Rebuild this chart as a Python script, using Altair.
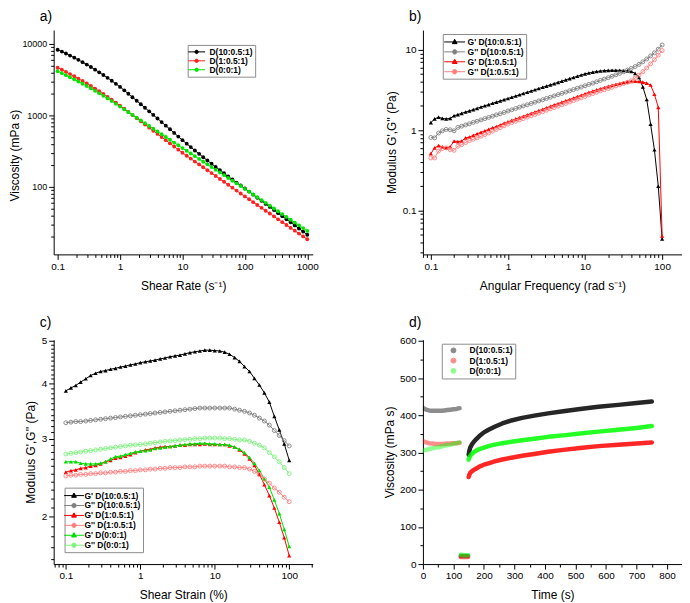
import json
import math
import altair as alt
import pandas as pd

FONT = "Liberation Sans, Arial, Helvetica, sans-serif"

# ---------------- data: panel a (viscosity flow curves) ----------------
A_X = [0.1, 0.117, 0.136, 0.158, 0.185, 0.215, 0.251, 0.293, 0.341, 0.398, 0.464, 0.541, 0.631, 0.736, 0.858,
       1, 1.17, 1.36, 1.58, 1.85, 2.15, 2.51, 2.93, 3.41, 3.98, 4.64, 5.41, 6.31, 7.36, 8.58,
       10, 11.7, 13.6, 15.8, 18.5, 21.5, 25.1, 29.3, 34.1, 39.8, 46.4, 54.1, 63.1, 73.6, 85.8,
       100, 117, 136, 158, 185, 215, 251, 293, 341, 398, 464, 541, 631, 736, 858, 1000]
A_D10 = [8300, 7816, 7345, 6875, 6425, 5984, 5555, 5140, 4750, 4365, 4008, 3673, 3357, 3050, 2768,
         2506, 2244, 2006, 1795, 1603, 1432, 1279, 1140, 1016, 906, 807, 719, 640, 569, 506,
         450, 402, 360, 323, 290, 260, 234, 211, 190, 172, 155, 140, 127, 115, 104.5,
         95.0, 86.0, 77.9, 70.5, 63.9, 57.8, 52.4, 47.4, 42.9, 38.9, 35.2, 31.9, 28.9, 26.1, 23.7, 21.4]
A_D1 = [4645, 4350, 4064, 3789, 3525, 3271, 3029, 2799, 2581, 2374, 2179, 1994, 1821, 1661, 1511,
        1371, 1238, 1119, 1011, 914, 826, 746, 674, 609, 551, 498, 450, 406, 367, 332,
        300, 273, 249, 226, 206, 188, 171, 156, 142, 129, 118, 107, 97.5, 88.8, 80.8,
        73.6, 67.1, 61.2, 55.8, 50.9, 46.4, 42.4, 38.6, 35.2, 32.1, 29.3, 26.7, 24.4, 22.2, 20.3, 18.5]
A_D0 = [4150, 3898, 3656, 3422, 3196, 2980, 2773, 2575, 2386, 2207, 2038, 1877, 1727, 1585, 1452,
        1327, 1214, 1111, 1016, 930, 851, 778, 712, 651, 596, 545, 499, 456, 417, 382,
        349, 320, 293, 269, 246, 225, 207, 189, 173, 159, 146, 133, 122, 112, 103,
        94.0, 85.9, 78.4, 71.6, 65.4, 59.8, 54.6, 49.9, 45.6, 41.6, 38.0, 34.7, 31.7, 29.0, 26.5, 24.2]

# ---------------- data: panel b (frequency sweep) ----------------
B_X = [0.1, 0.112, 0.126, 0.141, 0.158, 0.178, 0.2, 0.224, 0.251, 0.282, 0.316, 0.355, 0.398, 0.447, 0.501,
       0.562, 0.631, 0.708, 0.794, 0.891,
       1, 1.12, 1.26, 1.41, 1.58, 1.78, 2, 2.24, 2.51, 2.82, 3.16, 3.55, 3.98, 4.47, 5.01, 5.62, 6.31, 7.08,
       7.94, 8.91,
       10, 11.2, 12.6, 14.1, 15.8, 17.8, 20, 22.4, 25.1, 28.2, 31.6, 35.5, 39.8, 44.7, 50.1, 56.2, 63.1, 70.8,
       79.4, 89.1, 100]
B_GP_10 = [1.24, 1.38, 1.45, 1.40, 1.38, 1.40, 1.51, 1.56, 1.62, 1.68, 1.74, 1.80, 1.87, 1.94, 2.01, 2.08,
           2.16, 2.23, 2.31, 2.40,
           2.48, 2.57, 2.66, 2.76, 2.86, 2.96, 3.07, 3.18, 3.30, 3.42, 3.54, 3.67, 3.80, 3.94, 4.08, 4.23,
           4.38, 4.53, 4.69, 4.86,
           5.03, 5.15, 5.27, 5.37, 5.45, 5.51, 5.55, 5.57, 5.57, 5.56, 5.53, 5.48, 5.38, 5.10, 4.55, 3.46,
           2.41, 1.19, 0.57, 0.20, 0.044]
B_GPP_10 = [0.81, 0.80, 0.92, 0.98, 1.02, 1.01, 0.98, 1.08, 1.12, 1.16, 1.20, 1.25, 1.29, 1.34, 1.39, 1.44,
            1.49, 1.55, 1.60, 1.66,
            1.73, 1.79, 1.86, 1.93, 2.00, 2.07, 2.15, 2.23, 2.31, 2.39, 2.48, 2.57, 2.67, 2.77, 2.87, 2.98,
            3.09, 3.20, 3.32, 3.44,
            3.57, 3.71, 3.85, 4.00, 4.16, 4.33, 4.50, 4.69, 4.89, 5.10, 5.34, 5.60, 5.88, 6.20, 6.60, 7.10,
            7.70, 8.40, 9.20, 10.2, 11.5]
B_GP_1 = [0.51, 0.60, 0.64, 0.62, 0.60, 0.62, 0.73, 0.72, 0.73, 0.80, 0.82, 0.86, 0.90, 0.94, 0.98, 1.02,
          1.07, 1.11, 1.16, 1.22,
          1.27, 1.32, 1.38, 1.43, 1.49, 1.55, 1.62, 1.68, 1.75, 1.82, 1.90, 1.98, 2.06, 2.14, 2.23, 2.32,
          2.41, 2.51, 2.62, 2.72,
          2.84, 2.95, 3.06, 3.17, 3.28, 3.40, 3.51, 3.62, 3.73, 3.83, 3.92, 3.99, 4.04, 4.06, 4.04, 3.96,
          3.85, 3.65, 2.80, 1.92, 0.048]
B_GPP_1 = [0.45, 0.45, 0.55, 0.59, 0.60, 0.57, 0.56, 0.63, 0.66, 0.70, 0.74, 0.77, 0.80, 0.84, 0.88, 0.92,
           0.97, 1.02, 1.07, 1.13,
           1.19, 1.24, 1.29, 1.34, 1.39, 1.45, 1.51, 1.57, 1.63, 1.70, 1.77, 1.84, 1.91, 1.99, 2.07, 2.15,
           2.24, 2.33, 2.43, 2.52,
           2.63, 2.74, 2.85, 2.96, 3.07, 3.18, 3.30, 3.42, 3.55, 3.68, 3.81, 3.95, 4.12, 4.45, 4.85, 5.35,
           5.95, 6.70, 7.55, 8.60, 9.80]

# ---------------- data: panel c (amplitude sweep) ----------------
C_X = [0.1, 0.117, 0.136, 0.158, 0.185, 0.215, 0.251, 0.293, 0.341, 0.398, 0.464, 0.541, 0.631, 0.736, 0.858,
       1, 1.17, 1.36, 1.58, 1.85, 2.15, 2.51, 2.93, 3.41, 3.98, 4.64, 5.41, 6.31, 7.36, 8.58,
       10, 11.7, 13.6, 15.8, 18.5, 21.5, 25.1, 29.3, 34.1, 39.8, 46.4, 54.1, 63.1, 73.6, 85.8, 100]
C_GP_10 = [3.85, 3.91, 3.96, 4.03, 4.10, 4.17, 4.22, 4.26, 4.28, 4.31, 4.33, 4.36, 4.38, 4.41, 4.43,
           4.46, 4.48, 4.50, 4.52, 4.55, 4.57, 4.60, 4.62, 4.64, 4.67, 4.70, 4.72, 4.74, 4.76, 4.76,
           4.75, 4.74, 4.71, 4.66, 4.58, 4.49, 4.37, 4.26, 4.11, 3.97, 3.81, 3.63, 3.37, 3.14, 2.92, 2.68]
C_GPP_10 = [3.26, 3.27, 3.28, 3.28, 3.29, 3.30, 3.31, 3.32, 3.33, 3.34, 3.35, 3.36, 3.37, 3.38, 3.39,
            3.40, 3.41, 3.42, 3.43, 3.44, 3.45, 3.46, 3.47, 3.48, 3.49, 3.50, 3.51, 3.52, 3.52, 3.52,
            3.52, 3.52, 3.52, 3.52, 3.50, 3.48, 3.46, 3.43, 3.39, 3.34, 3.29, 3.22, 3.13, 3.05, 2.97, 2.89]
C_GP_1 = [2.52, 2.54, 2.55, 2.57, 2.58, 2.60, 2.61, 2.63, 2.66, 2.68, 2.71, 2.72, 2.74, 2.76, 2.79,
          2.81, 2.83, 2.84, 2.86, 2.87, 2.88, 2.88, 2.89, 2.90, 2.90, 2.91, 2.91, 2.91, 2.92, 2.91,
          2.91, 2.91, 2.91, 2.89, 2.87, 2.83, 2.77, 2.70, 2.61, 2.49, 2.36, 2.23, 2.09, 1.94, 1.79, 1.63]
C_GPP_1 = [2.47, 2.48, 2.48, 2.49, 2.49, 2.50, 2.50, 2.51, 2.51, 2.52, 2.52, 2.53, 2.53, 2.54, 2.54,
           2.55, 2.55, 2.56, 2.56, 2.57, 2.57, 2.58, 2.58, 2.58, 2.59, 2.59, 2.59, 2.60, 2.60, 2.60,
           2.60, 2.60, 2.60, 2.59, 2.59, 2.58, 2.58, 2.56, 2.53, 2.49, 2.43, 2.38, 2.32, 2.27, 2.21, 2.16]
C_GP_0 = [2.66, 2.66, 2.66, 2.64, 2.63, 2.63, 2.63, 2.64, 2.66, 2.70, 2.73, 2.74, 2.76, 2.78, 2.80,
          2.81, 2.82, 2.83, 2.85, 2.86, 2.87, 2.88, 2.89, 2.90, 2.91, 2.92, 2.92, 2.93, 2.93, 2.92,
          2.92, 2.91, 2.91, 2.90, 2.87, 2.84, 2.79, 2.72, 2.64, 2.54, 2.43, 2.33, 2.18, 2.03, 1.87, 1.71]
C_GPP_0 = [2.77, 2.78, 2.79, 2.80, 2.81, 2.82, 2.83, 2.84, 2.85, 2.86, 2.87, 2.88, 2.89, 2.90, 2.905,
           2.91, 2.92, 2.93, 2.94, 2.95, 2.96, 2.965, 2.97, 2.98, 2.985, 2.99, 3.00, 3.00, 3.01, 3.01,
           3.01, 3.01, 3.00, 3.00, 2.99, 2.98, 2.98, 2.96, 2.93, 2.90, 2.86, 2.79, 2.73, 2.66, 2.58, 2.50]

# ---------------- data: panel d (three-interval thixotropy test) ----------------
D_T1 = [0, 10, 20, 30, 40, 50, 60, 70, 80, 90, 100, 110, 120]
D10_1 = [420, 415, 413, 412, 412, 412, 412, 413, 414, 415, 416, 417, 419]
D1_1 = [331, 327, 325, 324, 323, 323, 323, 323, 324, 324, 325, 325, 326]
D0_1 = [305, 307, 309, 311, 313, 314, 316, 318, 320, 321, 323, 325, 327]
D_T2 = [124, 128, 132, 136, 140, 144, 148]
D10_2 = [22, 22, 22, 22, 22, 22, 22]
D1_2 = [19, 19, 19, 19, 19, 19, 19]
D0_2 = [25, 25, 24, 24, 24, 24, 24]
D_T3 = [150, 152, 155, 160, 167, 175, 185, 200, 215, 235, 260, 290, 325, 365, 410, 460, 515, 575, 640, 700, 750]
D10_3 = [294, 304, 313, 321, 329, 336, 344, 354, 361, 369, 378, 386, 393, 399, 405, 411, 417, 423, 428, 433, 437]
D1_3 = [234, 240, 245, 249, 253, 257, 262, 267, 271, 276, 281, 286, 291, 296, 302, 307, 312, 317, 321, 324, 327]
D0_3 = [281, 286, 291, 296, 301, 305, 309, 313, 317, 321, 325, 329, 333, 337, 342, 346, 351, 356, 361, 366, 371]
D_SEG_OPACITY = [0.45, 0.55, 0.85]

# ---------------- names, colours, ticks ----------------
S_NAMES = ["D(10:0.5:1)", "D(1:0.5:1)", "D(0:0:1)"]
G_NAMES = ["G' D(10:0.5:1)", "G'' D(10:0.5:1)", "G' D(1:0.5:1)", "G'' D(1:0.5:1)",
           "G' D(0:0:1)", "G'' D(0:0:1)"]
A_COLORS = ["#000000", "#ff2020", "#00e600"]
G_COLORS = ["#000000", "#808080", "#ff0000", "#ff7f7f", "#00dd00", "#7ff27f"]
D_COLORS = ["#000000", "#ff0000", "#00ff00"]


def minors(decades, extra=()):
    return sorted([round(m * d, 6) for d in decades for m in range(2, 10)] + list(extra))


A_XMAJ, A_XMIN = [0.1, 1, 10, 100, 1000], minors([0.1, 1, 10, 100])
A_YMAJ, A_YMIN = [100, 1000, 10000], minors([10, 100, 1000])
B_XMAJ, B_XMIN = [0.1, 1, 10, 100], minors([0.1, 1, 10], [0.08, 0.09])
B_YMAJ, B_YMIN = [0.1, 1, 10], minors([0.1, 1]) + [0.03, 0.04, 0.05, 0.06, 0.07, 0.08, 0.09]
C_XMAJ, C_XMIN = [0.1, 1, 10, 100], minors([0.1, 1, 10], [0.07, 0.08, 0.09, 200])
C_YMAJ = [2, 3, 4, 5]
C_YMIN = [round(v / 10, 1) for v in range(16, 50) if v % 10]
D_XMAJ, D_XMIN = list(range(0, 801, 100)), list(range(50, 801, 100))
D_YMAJ, D_YMIN = list(range(0, 601, 100)), list(range(50, 601, 100))

W, H = 261, 226


def axis(title, majors, minor_vals, fmt, label_size=10, title_pad=4, title_y=None):
    test = "indexof(" + json.dumps(majors) + ", datum.value) >= 0"
    kw = dict(title=title, values=sorted(majors + minor_vals), format=fmt,
              labelExpr=test + " ? datum.label : ''",
              tickSize={"condition": {"test": test, "value": 5}, "value": 3},
              grid=False, domainColor="black", domainWidth=1, tickColor="black", tickWidth=1,
              labelColor="black", labelFont=FONT, labelFontSize=label_size,
              titleFont=FONT, titleFontSize=12, titleFontWeight="normal", titleColor="black",
              labelPadding=2, titlePadding=title_pad, labelOverlap=False, labelFlush=False)
    if title_y is not None:
        kw["titleY"] = title_y
    return alt.Axis(**kw)


# ---------------- legend symbol paths (style only) ----------------
def ring(r, n=18):
    pts = [(r * math.cos(2 * math.pi * k / n), r * math.sin(2 * math.pi * k / n)) for k in range(n)]
    return "M" + "L".join(f"{x:.3f},{y:.3f}" for x, y in pts) + "Z"


def sym_dot(u, L):
    return f"M{-L/u:.3f},0H{L/u:.3f}" + "".join(ring(r / u) for r in (0.5, 1.1, 1.7))


def sym_tri(u, L):
    s = f"M{-L/u:.3f},0H{L/u:.3f}"
    for k in (1.0, 0.6, 0.25):
        s += (f"M0,{-2.6*k/u:.3f}L{2.4*k/u:.3f},{1.7*k/u:.3f}L{-2.4*k/u:.3f},{1.7*k/u:.3f}Z")
    return s


def sym_open(u, L, r=2.2):
    return f"M{-L/u:.3f},0H{-r/u:.3f}M{r/u:.3f},0H{L/u:.3f}" + ring(r / u)


def legend(x, y, size, offset, label_offset, row_pad, ltype=None):
    kw = dict(title=None, orient="none", legendX=x, legendY=y, direction="vertical",
              strokeColor="#8c8c8c", fillColor="white", padding=2.5,
              symbolSize=size, symbolStrokeWidth=1, symbolOffset=offset,
              labelOffset=label_offset, rowPadding=row_pad,
              labelFont=FONT, labelFontSize=8.5, labelFontWeight="bold", labelColor="black")
    if ltype:
        kw["symbolType"] = ltype
    return alt.Legend(**kw)


def title(t):
    return alt.TitleParams(text=t, anchor="start", frame="group", dx=-14, offset=-8, baseline="bottom",
                           fontSize=14, font=FONT, fontWeight="normal", color="black")


OUT = 1e7  # legend carriers are placed beyond the axis range and clipped away

# ---------------- panel a ----------------
a_df = pd.DataFrame({"x": A_X * 3, "y": A_D10 + A_D1 + A_D0,
                     "series": [S_NAMES[0]] * len(A_X) + [S_NAMES[1]] * len(A_X) + [S_NAMES[2]] * len(A_X)})
a_leg = pd.DataFrame({"x": [OUT] * 3, "y": [A_D10[0], A_D1[0], A_D0[0]], "series": S_NAMES})
xa = alt.X("x:Q", scale=alt.Scale(type="log", domain=[0.0864, 1223], nice=False),
           axis=axis("Shear Rate (s\u207b\u00b9)", A_XMAJ, A_XMIN, "~g", title_pad=9))
ya = alt.Y("y:Q", scale=alt.Scale(type="log", domain=[11.37, 15640], nice=False),
           axis=axis("Viscosity (mPa s)", A_YMAJ, A_YMIN, "~g", label_size=9, title_pad=0, title_y=126))
ca = alt.Scale(domain=S_NAMES, range=A_COLORS)
ua = 4.0
la = legend(135, 15, 64, 2, 8.5, -1.2)
a_carrier = alt.Chart(a_leg).mark_point(filled=False, opacity=1, strokeWidth=1, clip=True).encode(
    x=xa, y=ya,
    color=alt.Color("series:N", scale=ca, legend=la),
    shape=alt.Shape("series:N", scale=alt.Scale(domain=S_NAMES, range=[sym_dot(ua, 8.5)] * 3), legend=la))
a_lines = alt.Chart(a_df).mark_line(strokeWidth=1, clip=True).encode(
    x=xa, y=ya, color=alt.Color("series:N", scale=ca, legend=None), detail="series:N")
a_pts = alt.Chart(a_df).mark_point(shape="circle", filled=True, size=15, opacity=1, clip=True).encode(
    x=xa, y=ya, color=alt.Color("series:N", scale=ca, legend=None))
panel_a = alt.layer(a_carrier, a_lines, a_pts).properties(width=W, height=H, title=title("a)"))


# ---------------- panels b and c (G', G'') ----------------
def modulus_panel(xs, series, names, colors, xdom, ydom, xt, xmaj, xmin, ymaj, ymin, leg_xy, u, L,
                  sym_off, lab_off, ttl):
    n = len(xs)
    df = pd.DataFrame({"x": xs * len(series), "y": sum(series, []),
                       "series": sum([[nm] * n for nm in names], []),
                       "kind": sum([["Gp" if nm.startswith("G' ") else "Gpp"] * n for nm in names], [])})
    leg_df = pd.DataFrame({"x": [OUT] * len(names), "y": [s[0] for s in series], "series": names})
    xe = alt.X("x:Q", scale=alt.Scale(type="log", domain=xdom, nice=False),
               axis=axis(xt, xmaj, xmin, "~g", title_pad=9))
    ye = alt.Y("y:Q", scale=alt.Scale(type="log", domain=ydom, nice=False),
               axis=axis("Modulus G',G'' (Pa)", ymaj, ymin, "~g", title_pad=4))
    cs = alt.Scale(domain=names, range=colors)
    col = alt.Color("series:N", scale=cs, legend=None)
    lg = legend(leg_xy[0], leg_xy[1], 100, sym_off, lab_off, 0)
    shapes = [sym_tri(u, L) if nm.startswith("G' ") else sym_open(u, L) for nm in names]
    carrier = alt.Chart(leg_df).mark_point(filled=False, opacity=1, strokeWidth=1, clip=True).encode(
        x=xe, y=ye, color=alt.Color("series:N", scale=cs, legend=lg),
        shape=alt.Shape("series:N", scale=alt.Scale(domain=names, range=shapes), legend=lg))
    lines = alt.Chart(df).mark_line(strokeWidth=1, clip=True).encode(x=xe, y=ye, color=col, detail="series:N")
    tri = alt.Chart(df).transform_filter(alt.datum.kind == "Gp").mark_point(
        shape="triangle-up", filled=True, size=18, opacity=1, clip=True).encode(x=xe, y=ye, color=col)
    opn = alt.Chart(df).transform_filter(alt.datum.kind == "Gpp").mark_point(
        shape="circle", filled=False, size=16, strokeWidth=0.9, opacity=1, clip=True).encode(
        x=xe, y=ye, color=col)
    return alt.layer(carrier, lines, tri, opn).properties(width=W, height=H, title=title(ttl))


panel_b = modulus_panel(B_X, [B_GP_10, B_GPP_10, B_GP_1, B_GPP_1], G_NAMES[:4], G_COLORS[:4],
                        [0.0789, 181], [0.0283, 17.66], "Angular Frequency (rad s\u207b\u00b9)",
                        B_XMAJ, B_XMIN, B_YMAJ, B_YMIN, (20, 4), 5.0, 10.5, 4, 7.5, "b)")
panel_c = modulus_panel(C_X, [C_GP_10, C_GPP_10, C_GP_1, C_GPP_1, C_GP_0, C_GPP_0], G_NAMES, G_COLORS,
                        [0.0686, 207], [1.56, 5.026], "Shear Strain (%)",
                        C_XMAJ, C_XMIN, C_YMAJ, C_YMIN, (11, 149), 5.0, 10.0, 1.5, 5, "c)")

# ---------------- panel d ----------------
rows = []
for nm, segs in zip(S_NAMES, [(D10_1, D10_2, D10_3), (D1_1, D1_2, D1_3), (D0_1, D0_2, D0_3)]):
    for si, (ts, vs) in enumerate(zip((D_T1, D_T2, D_T3), segs)):
        for t, v in zip(ts, vs):
            rows.append({"x": t, "y": v, "series": nm, "key": f"{nm}-{si}", "op": D_SEG_OPACITY[si]})
d_df = pd.DataFrame(rows)
d_leg = pd.DataFrame({"x": [OUT] * 3, "y": [D10_1[0], D1_1[0], D0_1[0]], "series": S_NAMES})
xd = alt.X("x:Q", scale=alt.Scale(domain=[0, 849], nice=False, zero=False),
           axis=axis("Time (s)", D_XMAJ, D_XMIN, "d", title_pad=9))
yd = alt.Y("y:Q", scale=alt.Scale(domain=[0, 603], nice=False, zero=False),
           axis=axis("Viscosity (mPa s)", D_YMAJ, D_YMIN, "d", title_pad=3))
cd = alt.Scale(domain=S_NAMES, range=D_COLORS)
ld = legend(19, 4, 25, 5, 12, 0.3, "circle")
d_carrier = alt.Chart(d_leg).mark_point(shape="circle", filled=True, size=25, opacity=0.45, clip=True).encode(
    x=xd, y=yd, color=alt.Color("series:N", scale=cd, legend=ld))
d_lines = alt.Chart(d_df).mark_line(strokeWidth=4.5, strokeCap="round", strokeJoin="round", clip=True).encode(
    x=xd, y=yd, color=alt.Color("series:N", scale=cd, legend=None), detail="key:N",
    opacity=alt.Opacity("op:Q", scale=None, legend=None))
panel_d = alt.layer(d_carrier, d_lines).properties(width=W, height=H, title=title("d)"))

chart = alt.concat(panel_a, panel_b, panel_c, panel_d, columns=2,
                   spacing={"row": 86, "column": 111}, bounds="flush", align="all",
                   padding=0).resolve_scale(
    color="independent", shape="independent", opacity="independent").resolve_legend(
    color="independent", shape="independent").configure_view(stroke=None)

chart.save("out.html", embed_options={"renderer": "svg", "actions": False})
